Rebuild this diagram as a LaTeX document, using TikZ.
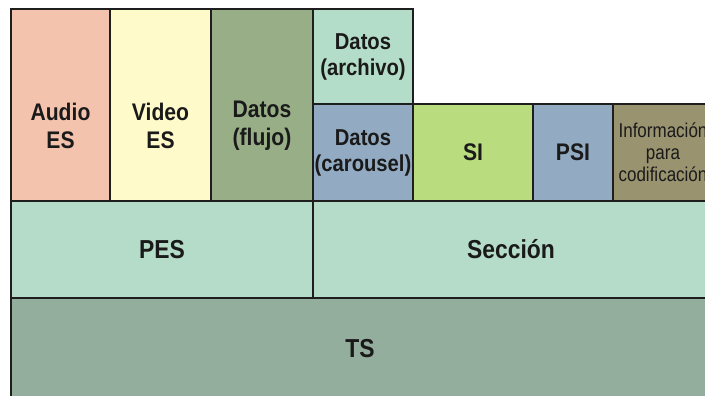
\documentclass[tikz,border=0pt]{standalone}
\usepackage{fontspec}
\setmainfont{Liberation Sans}
\newfontfamily\condfont[FakeStretch=0.88]{Liberation Sans}
\newfontfamily\narrowfont[FakeStretch=0.85]{Liberation Sans}
\definecolor{borde}{HTML}{1E1E1E}
\definecolor{texto}{HTML}{1A1A1A}
\definecolor{audio}{HTML}{F4C3AE}
\definecolor{video}{HTML}{FFFACA}
\definecolor{flujo}{HTML}{97AE86}
\definecolor{archivo}{HTML}{B3DDC8}
\definecolor{carrusel}{HTML}{93ABC2}
\definecolor{si}{HTML}{B9DC7F}
\definecolor{info}{HTML}{9A936F}
\definecolor{pes}{HTML}{B4DCC8}
\definecolor{ts}{HTML}{94AE9E}
\begin{document}
\begin{tikzpicture}[x=1pt,y=-1pt,
	capa/.style={draw=borde,line width=2.6pt,inner sep=0pt,outer sep=0pt,anchor=north west,align=center,text=texto},
	grande/.style={font=\condfont\fontsize{24}{28}\selectfont\bfseries},
	media/.style={font=\condfont\fontsize{23}{26}\selectfont\bfseries},
	base/.style={font=\condfont\fontsize{26}{28}\selectfont\bfseries},
	alta/.style={label={[capa,draw=none,anchor=center,grande,yshift=-21pt]center:{#1}}}]
	\clip (0,0) rectangle (705,396);
	\fill[white] (0,0) rectangle (705,396);
	% fila superior
	\node[capa,fill=audio,minimum width=99pt,minimum height=192pt,alta={Audio\\ES}] (audio) at (11,9) {};
	\node[capa,fill=video,minimum width=101pt,minimum height=192pt,alta={Video\\ES}] (video) at (110,9) {};
	\node[capa,fill=flujo,minimum width=102pt,minimum height=192pt,alta={Datos\\(flujo)}] (flujo) at (211,9) {};
	\node[capa,fill=archivo,media,minimum width=100pt,minimum height=95pt] (archivo) at (313,9) {Datos\\(archivo)};
	\node[capa,fill=carrusel,media,minimum width=100pt,minimum height=97pt] (carrusel) at (313,104) {Datos\\(carousel)};
	\node[capa,fill=si,grande,minimum width=120pt,minimum height=97pt] (si) at (413,104) {SI};
	\node[capa,fill=carrusel,grande,minimum width=80pt,minimum height=97pt] (psi) at (533,104) {PSI};
	\node[capa,fill=info,font=\narrowfont\fontsize{20}{22}\selectfont,minimum width=100pt,minimum height=97pt] (info) at (613,104) {Información\\para\\codificación};
	% capas inferiores
	\node[capa,fill=pes,base,minimum width=302pt,minimum height=97pt] (pes) at (11,201) {PES};
	\node[capa,fill=pes,base,minimum width=396pt,minimum height=97pt] (seccion) at (313,201) {\raisebox{-4pt}{Sección}};
	\node[capa,fill=ts,base,minimum width=698pt,minimum height=102pt] (ts) at (11,298) {TS};
\end{tikzpicture}
\end{document}
